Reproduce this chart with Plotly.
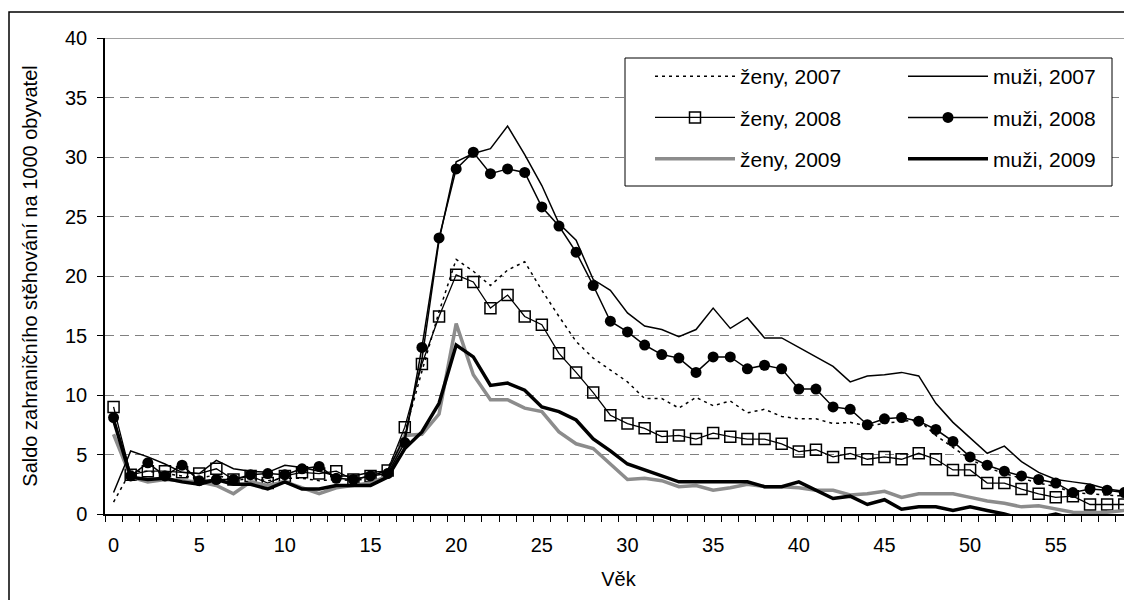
import plotly.graph_objects as go

ages = list(range(0, 60))

zeny_2007 = [1.0, 3.6, 3.6, 3.4, 3.2, 3.0, 3.3, 2.8, 3.0, 2.8, 3.0, 3.0, 2.8, 2.9, 2.8, 3.0, 3.8, 6.8, 12.0, 17.0,
             21.4, 20.4, 19.2, 20.5, 21.2, 18.8, 16.6, 14.5, 13.1, 12.1, 11.1, 9.7, 9.7, 8.9, 9.8, 9.1, 9.5, 8.5, 8.8, 8.2,
             8.0, 8.0, 7.6, 7.7, 7.4, 7.6, 7.8, 7.9, 6.6, 5.6, 4.6, 3.9, 3.4, 3.0, 2.6, 2.3, 1.8, 1.7, 1.6, 1.5]
muzi_2007 = [1.8, 5.3, 4.8, 4.2, 3.5, 3.4, 4.5, 3.8, 3.6, 3.5, 4.1, 3.9, 3.6, 3.2, 3.2, 3.5, 3.6, 6.5, 13.0, 23.0,
             29.6, 30.3, 30.7, 32.6, 30.2, 27.6, 24.4, 23.0, 19.7, 18.8, 16.9, 15.8, 15.5, 14.9, 15.5, 17.3, 15.6, 16.5, 14.8, 14.8,
             14.0, 13.2, 12.4, 11.1, 11.6, 11.7, 11.9, 11.6, 9.3, 7.7, 6.4, 5.1, 5.7, 4.4, 3.5, 2.9, 2.7, 2.5, 2.1, 1.9]
zeny_2008 = [9.0, 3.3, 3.6, 3.6, 3.5, 3.4, 3.8, 2.9, 3.2, 2.6, 3.2, 3.5, 3.4, 3.6, 2.9, 3.2, 3.65, 7.3, 12.6, 16.6,
             20.1, 19.5, 17.3, 18.4, 16.6, 15.9, 13.5, 11.9, 10.2, 8.3, 7.6, 7.2, 6.5, 6.6, 6.3, 6.8, 6.5, 6.3, 6.3, 5.9,
             5.25, 5.4, 4.8, 5.1, 4.6, 4.8, 4.6, 5.1, 4.6, 3.7, 3.7, 2.6, 2.6, 2.1, 1.7, 1.4, 1.5, 0.8, 0.8, 0.8]
muzi_2008 = [8.1, 3.2, 4.3, 3.2, 4.1, 2.8, 2.9, 2.9, 3.3, 3.4, 3.3, 3.8, 4.0, 3.0, 2.9, 3.2, 3.4, 6.0, 14.0, 23.2,
             29.0, 30.4, 28.6, 29.0, 28.7, 25.8, 24.2, 22.0, 19.2, 16.2, 15.3, 14.2, 13.4, 13.1, 11.9, 13.2, 13.2, 12.2, 12.5, 12.2,
             10.5, 10.5, 9.0, 8.8, 7.5, 8.0, 8.1, 7.8, 7.1, 6.1, 4.8, 4.1, 3.6, 3.2, 2.9, 2.6, 1.8, 2.1, 2.0, 1.8]
zeny_2009 = [6.7, 3.1, 2.7, 2.9, 2.8, 2.7, 2.4, 1.7, 2.7, 2.4, 2.7, 2.2, 1.7, 2.2, 2.4, 2.6, 3.2, 6.6, 6.7, 8.4,
             16.0, 11.7, 9.6, 9.6, 8.9, 8.6, 6.9, 5.9, 5.5, 4.2, 2.9, 3.0, 2.8, 2.3, 2.4, 2.0, 2.2, 2.5, 2.3, 2.3,
             2.2, 2.0, 2.0, 1.6, 1.7, 1.9, 1.4, 1.7, 1.7, 1.7, 1.4, 1.1, 0.9, 0.6, 0.7, 0.4, 0.15, 0.1, 0.15, 0.3]
muzi_2009 = [7.9, 3.1, 2.9, 3.0, 2.7, 2.5, 2.9, 2.5, 2.5, 2.1, 2.7, 2.1, 2.1, 2.4, 2.4, 2.4, 3.1, 5.5, 6.9, 9.3,
             14.2, 13.2, 10.8, 11.0, 10.4, 9.0, 8.6, 7.9, 6.3, 5.3, 4.2, 3.7, 3.2, 2.7, 2.7, 2.7, 2.7, 2.7, 2.3, 2.3,
             2.7, 2.0, 1.3, 1.5, 0.8, 1.2, 0.4, 0.6, 0.6, 0.3, 0.6, 0.3, 0.0, -0.4, -0.3, 0.0, -0.4, -0.5, -0.4, -0.4]

x_ticks = list(range(0, 60, 5))
y_ticks = list(range(0, 41, 5))

FONT = "Arial, Liberation Sans, sans-serif"

fig = go.Figure()

fig.add_trace(go.Scatter(x=ages, y=zeny_2007, name="ženy, 2007", mode="lines",
                         line=dict(color="black", width=1.5, dash="3px,4px"),
                         legend="legend", legendgroup="a"))
fig.add_trace(go.Scatter(x=ages, y=zeny_2008, name="ženy, 2008", mode="lines+markers",
                         line=dict(color="black", width=1.3),
                         marker=dict(symbol="square-open", size=11, color="black", line=dict(width=1.5)),
                         legend="legend", legendgroup="b"))
fig.add_trace(go.Scatter(x=ages, y=zeny_2009, name="ženy, 2009", mode="lines",
                         line=dict(color="#8c8c8c", width=3.5),
                         legend="legend", legendgroup="c"))
fig.add_trace(go.Scatter(x=ages, y=muzi_2007, name="muži, 2007", mode="lines",
                         line=dict(color="black", width=1.5),
                         legend="legend2", legendgroup="d"))
fig.add_trace(go.Scatter(x=ages, y=muzi_2008, name="muži, 2008", mode="lines+markers",
                         line=dict(color="black", width=1.5),
                         marker=dict(symbol="circle", size=11, color="black"),
                         legend="legend2", legendgroup="e"))
fig.add_trace(go.Scatter(x=ages, y=muzi_2009, name="muži, 2009", mode="lines",
                         line=dict(color="black", width=3.5),
                         legend="legend2", legendgroup="f"))

# page body has an 8px margin: the figure starts at (8, 8) in the window
OFF = 8
W, H = 1132 - OFF, 600 - OFF
PL, PR, PT, PB = 105, 1132, 38, 514          # plot area in window pixels
L, R, T, B = PL - OFF, (1132 - PR), PT - OFF, H - (PB - OFF)
pw, ph = W - L - R, H - T - B


def px(xw):
    return (xw - OFF - L) / pw


def py(yw):
    return (H - B - (yw - OFF)) / ph


legend_common = dict(xanchor="left", yanchor="top", bgcolor="rgba(0,0,0,0)",
                     borderwidth=0, itemwidth=80, tracegroupgap=11,
                     font=dict(size=21), traceorder="grouped")

fig.update_layout(
    width=W, height=H,
    margin=dict(l=L, r=R, t=T, b=B, pad=0),
    plot_bgcolor="white", paper_bgcolor="white",
    font=dict(family=FONT, size=20, color="black"),
    showlegend=True,
    legend=dict(x=px(650), y=py(56), **legend_common),
    legend2=dict(x=px(903), y=py(56), **legend_common),
    xaxis=dict(range=[-0.5, 59.45], tickmode="array", tickvals=x_ticks,
               ticktext=[str(v) for v in x_ticks], ticks="", showgrid=False,
               showline=True, linecolor="black", linewidth=1.5, zeroline=False,
               ticklabelstandoff=12, tickfont=dict(size=20),
               minor=dict(tick0=-0.5, dtick=1, ticks="outside", ticklen=6,
                          tickcolor="black", tickwidth=1, showgrid=False),
               title=dict(text="Věk", font=dict(size=20), standoff=17)),
    yaxis=dict(range=[0, 40], tickmode="array", tickvals=y_ticks,
               ticks="outside", ticklen=6, tickcolor="black", tickwidth=1,
               showline=True, linecolor="black", linewidth=1.5, zeroline=False,
               showgrid=True, gridcolor="#808080", gridwidth=1.3, griddash="9px,6px",
               ticklabelstandoff=6, tickfont=dict(size=20),
               title=dict(text="Saldo zahraničního stěhování na 1000 obyvatel",
                          font=dict(size=20), standoff=22)),
)

# top border of plot area (gray solid)
fig.add_shape(type="line", xref="paper", yref="y", x0=0, x1=1, y0=40, y1=40,
              line=dict(color="#808080", width=1.5), layer="above")
# legend frame
fig.add_shape(type="rect", xref="paper", yref="paper",
              x0=px(625), x1=px(1112), y0=py(186), y1=py(58),
              line=dict(color="black", width=1), fillcolor="white", layer="above")
# outer chart border
fig.add_shape(type="rect", xref="paper", yref="paper",
              x0=px(9), x1=px(1140), y0=py(610), y1=py(12),
              line=dict(color="black", width=1.5), fillcolor="rgba(0,0,0,0)", layer="above")

fig.write_html("out.html")
